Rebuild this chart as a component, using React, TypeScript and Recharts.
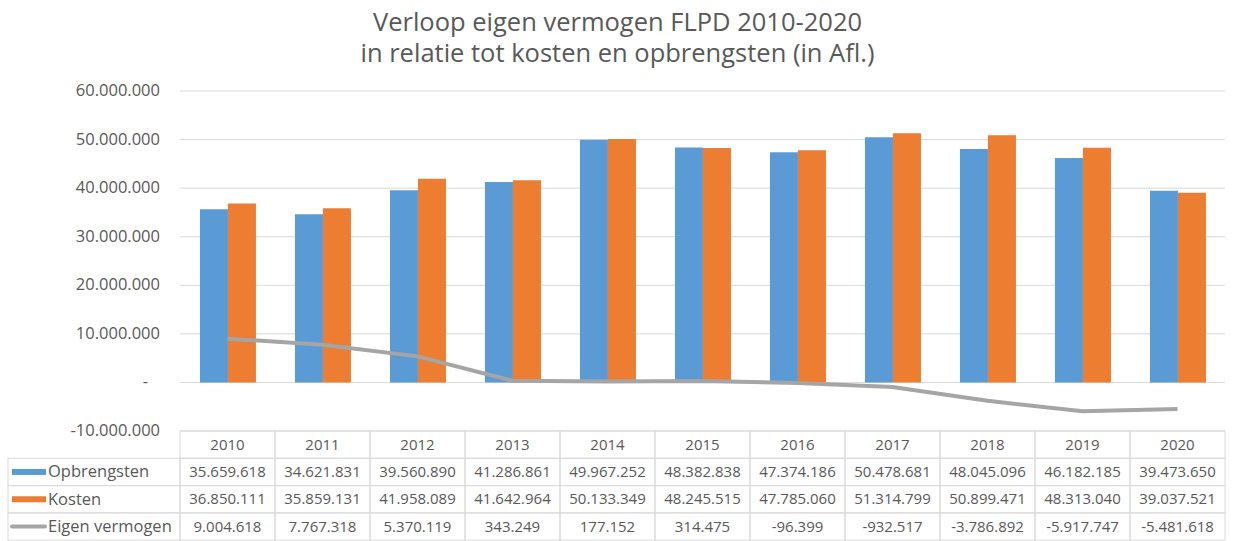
import React from "react";
import { ComposedChart, Bar, Line, XAxis, YAxis, CartesianGrid } from "recharts";

const years = ["2010", "2011", "2012", "2013", "2014", "2015", "2016", "2017", "2018", "2019", "2020"];
const opbrengsten = [35659618, 34621831, 39560890, 41286861, 49967252, 48382838, 47374186, 50478681, 48045096, 46182185, 39473650];
const kosten = [36850111, 35859131, 41958089, 41642964, 50133349, 48245515, 47785060, 51314799, 50899471, 48313040, 39037521];
const eigenVermogen = [9004618, 7767318, 5370119, 343249, 177152, 314475, -96399, -932517, -3786892, -5917747, -5481618];
const yTicks = [-10000000, 0, 10000000, 20000000, 30000000, 40000000, 50000000, 60000000];
const titleLines = ["Verloop eigen vermogen FLPD 2010-2020", "in relatie tot kosten en opbrengsten (in Afl.)"];

const BLUE = "#5B9BD5";
const ORANGE = "#ED7D31";
const GREY = "#A5A5A5";
const TEXT = "#595959";
const BORDER = "#D9D9D9";
const FONT = "'Open Sans', sans-serif";

const data = years.map((y, i) => ({
  year: y,
  opbrengsten: opbrengsten[i],
  kosten: kosten[i],
  eigen: eigenVermogen[i],
}));

// 1.234.567 style
const fmt = (v: number) => {
  const s = Math.abs(v).toString().replace(/\B(?=(\d{3})+(?!\d))/g, ".");
  return v < 0 ? "-" + s : s;
};

const CHART_W = 1235;
const CHART_H = 541;
const LEFT = 180;
const RIGHT = 10;
const cellW = (CHART_W - LEFT - RIGHT) / years.length;
const rowH = 27.3;

const rows = [
  { name: "Opbrengsten", values: opbrengsten, color: BLUE, kind: "bar" },
  { name: "Kosten", values: kosten, color: ORANGE, kind: "bar" },
  { name: "Eigen vermogen", values: eigenVermogen, color: GREY, kind: "line" },
];

const YTick = (props: any) => {
  const { x, y, payload } = props;
  const v = payload.value as number;
  return (
    <text x={v === 0 ? x - 12 : x} y={y} dy={5} textAnchor="end" fill={TEXT} fontSize={16.5} fontFamily={FONT}>
      {v === 0 ? "-" : fmt(v)}
    </text>
  );
};

const TableTick = (props: any) => {
  const { x, y, payload, index } = props;
  const left = x - cellW / 2;
  const top = y;
  return (
    <g>
      <rect x={left} y={top} width={cellW} height={rowH} fill="none" stroke={BORDER} />
      <text x={x} y={top + rowH / 2 + 5} textAnchor="middle" fill={TEXT} fontSize={15} fontFamily={FONT}>
        {payload.value}
      </text>
      {rows.map((r, ri) => {
        const ry = top + rowH * (ri + 1);
        return (
          <g key={r.name}>
            <rect x={left} y={ry} width={cellW} height={rowH} fill="none" stroke={BORDER} />
            <text x={x} y={ry + rowH / 2 + 5} textAnchor="middle" fill={TEXT} fontSize={15} fontFamily={FONT}>
              {fmt(r.values[index])}
            </text>
          </g>
        );
      })}
      {index === 0 &&
        rows.map((r, ri) => {
          const ry = top + rowH * (ri + 1);
          return (
            <g key={"lg" + r.name}>
              <rect x={8} y={ry} width={left - 8} height={rowH} fill="none" stroke={BORDER} />
              {r.kind === "bar" ? (
                <rect x={12} y={ry + rowH / 2 - 3} width={34} height={6} fill={r.color} />
              ) : (
                <line x1={12} x2={45} y1={ry + rowH / 2} y2={ry + rowH / 2} stroke={r.color} strokeWidth={4} strokeLinecap="round" />
              )}
              <text x={48} y={ry + rowH / 2 + 5.5} fill={TEXT} fontSize={16.5} fontFamily={FONT}>
                {r.name}
              </text>
            </g>
          );
        })}
    </g>
  );
};

export default function App() {
  return (
    <div style={{ position: "absolute", left: 0, top: 0, width: CHART_W, height: CHART_H, background: "#fff" }}>
      <ComposedChart
        width={CHART_W}
        height={CHART_H}
        data={data}
        margin={{ top: 91, right: RIGHT, bottom: 0, left: 0 }}
        barCategoryGap="21%"
        barGap={0}
      >
        <text x={CHART_W / 2} y={31} textAnchor="middle" fill={TEXT} fontSize={25.5} fontFamily={FONT}>
          {titleLines[0]}
        </text>
        <text x={CHART_W / 2} y={62} textAnchor="middle" fill={TEXT} fontSize={25.5} fontFamily={FONT}>
          {titleLines[1]}
        </text>
        <CartesianGrid vertical={false} stroke={BORDER} />
        <XAxis
          dataKey="year"
          height={110}
          axisLine={false}
          tickLine={false}
          tickSize={0}
          tickMargin={0}
          interval={0}
          tick={<TableTick />}
        />
        <YAxis
          width={LEFT}
          domain={[-10000000, 60000000]}
          ticks={yTicks}
          axisLine={false}
          tickLine={false}
          tickSize={0}
          tickMargin={20}
          tick={<YTick />}
        />
        <Bar dataKey="opbrengsten" fill={BLUE} isAnimationActive={false} />
        <Bar dataKey="kosten" fill={ORANGE} isAnimationActive={false} />
        <Line
          type="linear"
          dataKey="eigen"
          stroke={GREY}
          strokeWidth={4}
          dot={false}
          activeDot={false}
          isAnimationActive={false}
        />
      </ComposedChart>
    </div>
  );
}
